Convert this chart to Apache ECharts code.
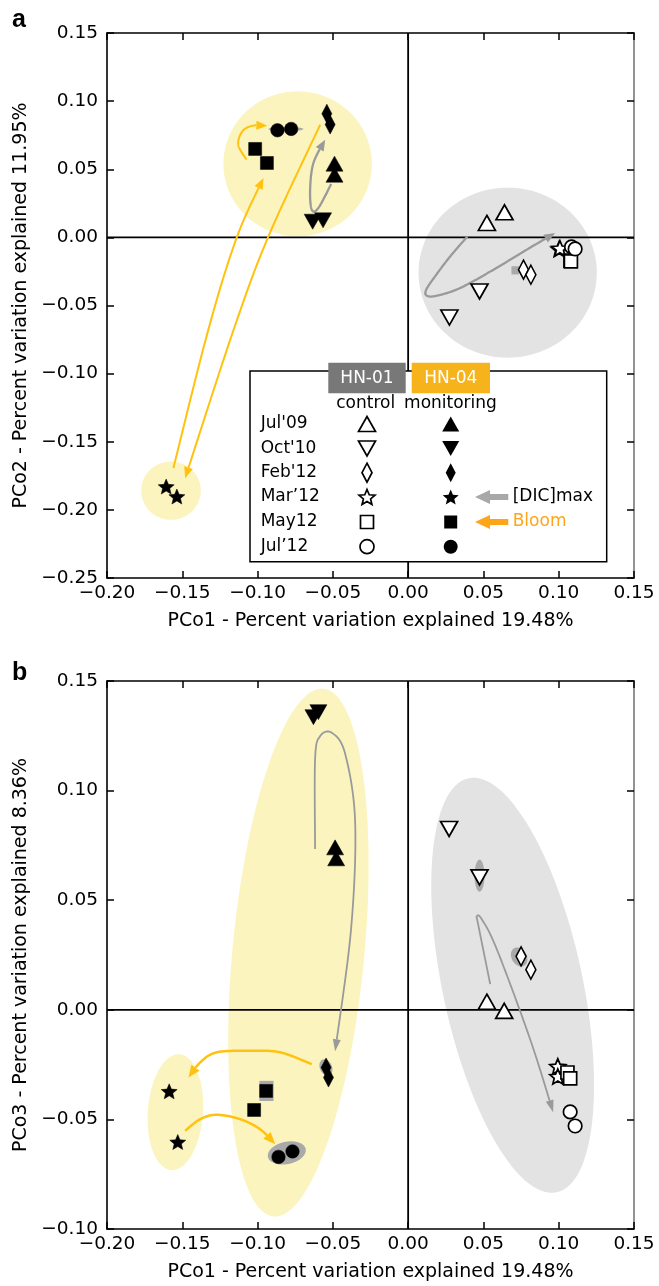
<!DOCTYPE html>
<html>
<head>
<meta charset="utf-8">
<script src="https://cdn.jsdelivr.net/npm/echarts@6/dist/echarts.min.js"></script>
<style>html,body{margin:0;padding:0;background:#fff}#c{width:659px;height:1286px}</style>
</head>
<body>
<div id="c"></div>
<script>
// ---------------- data ----------------
const monthLabels = ["Jul'09", "Oct'10", "Feb'12", "Mar\u201912", "May12", "Jul\u201912"];
const xTicks = [-0.20, -0.15, -0.10, -0.05, 0.00, 0.05, 0.10, 0.15];
const yTicksA = [-0.25, -0.20, -0.15, -0.10, -0.05, 0.00, 0.05, 0.10, 0.15];
const yTicksB = [-0.10, -0.05, 0.00, 0.05, 0.10, 0.15];
const tickStep = 0.05;

// [PCo1, PCo2, month index]
const panelA_control = [
  [0.0523, 0.0106, 0], [0.0640, 0.0184, 0],
  [0.0474, -0.0397, 1], [0.0274, -0.0588, 1],
  [0.0766, -0.0237, 2], [0.0815, -0.0274, 2],
  [0.1003, -0.0085, 3], [0.1008, -0.0080, 3],
  [0.1078, -0.0170, 4], [0.1081, -0.0176, 4],
  [0.1085, -0.0070, 5], [0.1109, -0.0085, 5]
];
const panelA_monitoring = [
  [-0.0489, 0.0541, 0], [-0.0489, 0.0460, 0],
  [-0.0634, 0.0115, 1], [-0.0565, 0.0125, 1],
  [-0.0540, 0.0908, 2], [-0.0518, 0.0828, 2],
  [-0.1607, -0.1829, 3], [-0.1536, -0.1902, 3],
  [-0.1016, 0.0649, 4], [-0.0938, 0.0546, 4],
  [-0.0868, 0.0786, 5], [-0.0777, 0.0796, 5]
];
// [PCo1, PCo3, month index]
const panelB_control = [
  [0.0523, 0.0037, 0], [0.0638, -0.0005, 0],
  [0.0272, 0.0825, 1], [0.0474, 0.0604, 1],
  [0.0750, 0.0244, 2], [0.0815, 0.0183, 2],
  [0.0994, -0.0258, 3], [0.0994, -0.0304, 3],
  [0.1058, -0.0286, 4], [0.1076, -0.0313, 4],
  [0.1076, -0.0466, 5], [0.1109, -0.0530, 5]
];
const panelB_monitoring = [
  [-0.0485, 0.0741, 0], [-0.0478, 0.0691, 0],
  [-0.0629, 0.1335, 1], [-0.0596, 0.1358, 1],
  [-0.0545, -0.0263, 2], [-0.0529, -0.0309, 2],
  [-0.1587, -0.0372, 3], [-0.1530, -0.0603, 3],
  [-0.0943, -0.0370, 4], [-0.1023, -0.0457, 4],
  [-0.0861, -0.0671, 5], [-0.0768, -0.0646, 5]
];

// group outlines [cx, cy, rx, ry, rotation deg]
const panelA_monitoringHulls = [[-0.0734, 0.0540, 0.0493, 0.0532, 0], [-0.1575, -0.1859, 0.0198, 0.0214, 0]];
const panelA_controlHulls = [[0.0661, -0.0259, 0.0592, 0.0624, 0]];
const panelB_monitoringHulls = [[-0.0729, 0.0261, 0.0438, 0.1209, -5.4], [-0.1546, -0.0467, 0.0183, 0.0265, -4]];
const panelB_controlHulls = [[0.0694, 0.0112, 0.0465, 0.0966, 12]];

// replicate spread [cx, cy, rx, ry, rotation deg]
const panelA_spread = [[-0.0812, 0.0795, 0.0116, 0.0016, 0]];
const panelA_spreadBoxes = [[0.0711, -0.0242, 0.0025, 0.0030]];
const panelB_spread = [[0.0474, 0.0612, 0.0033, 0.0073, 0], [0.0737, 0.0241, 0.0050, 0.0046, 30],
                       [-0.0546, -0.0263, 0.0040, 0.0039, 25], [-0.0806, -0.0653, 0.0128, 0.0051, 12]];
const panelB_spreadBoxes = [[-0.0941, -0.0370, 0.0047, 0.0046]];

// trajectories (points along each arrow)
const panelA_bloomArrows = [
  [[-0.1074, 0.0571], [-0.1128, 0.0680], [-0.1100, 0.0780], [-0.1030, 0.0820], [-0.0935, 0.0820]],
  [[-0.1559, -0.1693], [-0.1327, -0.0677], [-0.1138, 0.0000], [-0.0961, 0.0436]],
  [[-0.0584, 0.0827], [-0.0928, 0.0007], [-0.1160, -0.0681], [-0.1481, -0.1767]]
];
const panelA_dicArrows = [
  [[-0.0511, 0.0392], [-0.0596, 0.0216], [-0.0640, 0.0203], [-0.0651, 0.0350], [-0.0629, 0.0546], [-0.0551, 0.0717]],
  [[0.0394, 0.0007], [0.0279, -0.0140], [0.0179, -0.0286], [0.0120, -0.0384], [0.0124, -0.0428], [0.0191, -0.0428],
   [0.0345, -0.0372], [0.0567, -0.0237], [0.0788, -0.0090], [0.0976, 0.0032]]
];
const panelB_bloomArrows = [
  [[-0.0640, -0.0248], [-0.0850, -0.0194], [-0.1049, -0.0187], [-0.1271, -0.0194], [-0.1381, -0.0240], [-0.1459, -0.0309]],
  [[-0.1481, -0.0552], [-0.1381, -0.0499], [-0.1271, -0.0479], [-0.1116, -0.0499], [-0.0983, -0.0545], [-0.0883, -0.0613]]
];
const panelB_dicArrows = [
  [[-0.0618, 0.0734], [-0.0618, 0.1145], [-0.0584, 0.1249], [-0.0505, 0.1263], [-0.0418, 0.1167], [-0.0352, 0.0857],
   [-0.0379, 0.0369], [-0.0485, -0.0189]],
  [[0.0545, 0.0117], [0.0467, 0.0383], [0.0456, 0.0426], [0.0489, 0.0413], [0.0589, 0.0276], [0.0810, -0.0134], [0.0963, -0.0467]]
];

// ---------------- styling ----------------
const FONT = 'DejaVu Sans';
const YELLOW_FILL = '#FCF4BE';
const GRAY_FILL = '#E3E3E3';
const SPREAD = '#A9A9A9';
const BLOOM = '#FFC20E';
const DIC = '#9A9A9A';

// unit shapes in a 0..1 box
function starUnit() {
  const raw = [];
  for (let k = 0; k < 10; k++) {
    const a = (-90 + k * 36) * Math.PI / 180;
    const r = k % 2 ? 0.45 : 1;
    raw.push([Math.cos(a) * r, Math.sin(a) * r]);
  }
  const xs = raw.map(p => p[0]), ys = raw.map(p => p[1]);
  const x0 = Math.min(...xs), x1 = Math.max(...xs), y0 = Math.min(...ys), y1 = Math.max(...ys);
  return raw.map(p => [(p[0] - x0) / (x1 - x0), (p[1] - y0) / (y1 - y0)]);
}
const UNIT = [
  [[0, 1], [0.5, 0], [1, 1]],
  [[0, 0], [1, 0], [0.5, 1]],
  [[0.5, 0], [1, 0.5], [0.5, 1], [0, 0.5]],
  starUnit(),
  [[0, 0], [1, 0], [1, 1], [0, 1]],
  null
];
function unitPath(u) {
  return 'path://' + u.map((p, i) => (i ? 'L' : 'M') + (p[0] * 100).toFixed(2) + ',' + (p[1] * 100).toFixed(2)).join('') + 'Z';
}
const SYMBOLS = ['triangle', unitPath(UNIT[1]), 'diamond', unitPath(UNIT[3]), 'rect', 'circle'];
const SIZES = [[17, 15], [17, 15], [10, 19], [16, 15], [13, 13], [13.5, 13.5]];

function fmt(v) {
  if (Math.abs(v) < 1e-9) return '0.00';
  return (v < 0 ? '\u2212' : '') + Math.abs(v).toFixed(2);
}

function xAxisDef(grid, bottom, name) {
  return {
    type: 'value', gridIndex: grid, position: bottom ? 'bottom' : 'top',
    min: xTicks[0], max: xTicks[xTicks.length - 1], interval: tickStep,
    name: bottom ? name : '', nameLocation: 'middle', nameGap: 34,
    nameTextStyle: { fontFamily: FONT, fontSize: 19, color: '#000' },
    axisLine: { show: true, onZero: false, lineStyle: { color: '#000', width: 1.6 } },
    axisTick: { show: true, inside: true, length: 7, lineStyle: { color: '#000', width: 1.5 } },
    axisLabel: { show: bottom, formatter: fmt, fontFamily: FONT, fontSize: 18.5, color: '#000', margin: 6 },
    splitLine: { show: false }
  };
}
function yAxisDef(grid, left, ticks, name) {
  return {
    type: 'value', gridIndex: grid, position: left ? 'left' : 'right',
    min: ticks[0], max: ticks[ticks.length - 1], interval: tickStep,
    name: left ? name : '', nameLocation: 'middle', nameGap: 73,
    nameTextStyle: { fontFamily: FONT, fontSize: 19, color: '#000' },
    axisLine: { show: true, onZero: false, lineStyle: { color: left ? '#000' : '#777', width: 1.6 } },
    axisTick: { show: true, inside: true, length: 7, lineStyle: { color: '#000', width: 1.5 } },
    axisLabel: { show: left, formatter: fmt, fontFamily: FONT, fontSize: 18.5, color: '#000', margin: 9 },
    splitLine: { show: false }
  };
}

function ellipseSeries(list, fill, z, ax) {
  return {
    type: 'custom', xAxisIndex: ax, yAxisIndex: ax, z: z, silent: true, clip: false,
    data: list.map(e => e.slice()), encode: { x: 0, y: 1 },
    renderItem(params, api) {
      const c = api.coord([api.value(0), api.value(1)]);
      const s = api.size([api.value(2), api.value(3)]);
      const r = api.value(4) * Math.PI / 180;
      const pts = [];
      for (let i = 0; i < 120; i++) {
        const t = i / 120 * 2 * Math.PI;
        const px = s[0] * Math.cos(t), py = s[1] * Math.sin(t);
        pts.push([c[0] + px * Math.cos(r) + py * Math.sin(r), c[1] - px * Math.sin(r) + py * Math.cos(r)]);
      }
      return { type: 'polygon', shape: { points: pts }, style: { fill: fill } };
    }
  };
}
function boxSeries(list, fill, z, ax) {
  return {
    type: 'custom', xAxisIndex: ax, yAxisIndex: ax, z: z, silent: true, clip: false,
    data: list.map(e => e.slice()), encode: { x: 0, y: 1 },
    renderItem(params, api) {
      const c = api.coord([api.value(0), api.value(1)]);
      const s = api.size([api.value(2), api.value(3)]);
      return { type: 'rect', shape: { x: c[0] - s[0], y: c[1] - s[1], width: 2 * s[0], height: 2 * s[1] }, style: { fill: fill } };
    }
  };
}
function spline(pts, seg) {
  const out = [];
  for (let i = 0; i < pts.length - 1; i++) {
    const p0 = pts[Math.max(i - 1, 0)], p1 = pts[i], p2 = pts[i + 1], p3 = pts[Math.min(i + 2, pts.length - 1)];
    for (let k = 0; k < seg; k++) {
      const t = k / seg, t2 = t * t, t3 = t2 * t;
      const f = (a, b, c, d) => 0.5 * (2 * b + (-a + c) * t + (2 * a - 5 * b + 4 * c - d) * t2 + (-a + 3 * b - 3 * c + d) * t3);
      out.push([f(p0[0], p1[0], p2[0], p3[0]), f(p0[1], p1[1], p2[1], p3[1])]);
    }
  }
  out.push(pts[pts.length - 1]);
  return out;
}
function arrowSeries(list, color, width, headLen, headW, z, ax) {
  return {
    type: 'custom', xAxisIndex: ax, yAxisIndex: ax, z: z, silent: true, clip: false,
    data: list.map((_, i) => [i]),
    renderItem(params, api) {
      const pts = list[api.value(0)].map(p => api.coord(p));
      const dense = spline(pts, 20);
      const n = dense.length, tip = dense[n - 1];
      let back = n - 2;
      while (back > 0 && Math.hypot(dense[back][0] - tip[0], dense[back][1] - tip[1]) < headLen) back--;
      const b = dense[back];
      const L = Math.hypot(tip[0] - b[0], tip[1] - b[1]) || 1;
      const ux = (tip[0] - b[0]) / L, uy = (tip[1] - b[1]) / L;
      const bx = tip[0] - ux * headLen, by = tip[1] - uy * headLen;
      const line = dense.slice(0, back + 1).concat([[bx, by]]);
      return {
        type: 'group', children: [
          { type: 'polyline', shape: { points: line }, style: { stroke: color, lineWidth: width, fill: null } },
          { type: 'polygon', shape: { points: [tip, [bx - uy * headW / 2, by + ux * headW / 2], [bx + uy * headW / 2, by - ux * headW / 2]] }, style: { fill: color } }
        ]
      };
    }
  };
}
function zeroLineSeries(yTicks, ax) {
  const y0 = yTicks[0], y1 = yTicks[yTicks.length - 1], x0 = xTicks[0], x1 = xTicks[xTicks.length - 1];
  return {
    type: 'custom', xAxisIndex: ax, yAxisIndex: ax, z: 3, silent: true, clip: false,
    data: [[0, 0]],
    renderItem(params, api) {
      const a = api.coord([0, y0]), b = api.coord([0, y1]), c = api.coord([x0, 0]), d = api.coord([x1, 0]);
      return {
        type: 'group', children: [
          { type: 'line', shape: { x1: a[0], y1: a[1], x2: b[0], y2: b[1] }, style: { stroke: '#000', lineWidth: 1.8 } },
          { type: 'line', shape: { x1: c[0], y1: c[1], x2: d[0], y2: d[1] }, style: { stroke: '#000', lineWidth: 1.8 } }
        ]
      };
    }
  };
}
function pointSeries(data, open, ax) {
  return {
    type: 'scatter', xAxisIndex: ax, yAxisIndex: ax, z: 6, silent: true,
    data: data.map(d => d.slice()),
    symbol: v => SYMBOLS[v[2]],
    symbolSize: v => SIZES[v[2]],
    itemStyle: open ? { color: '#fff', borderColor: '#000', borderWidth: 1.7, opacity: 1 }
                    : { color: '#000', borderColor: '#000', borderWidth: 0.5, opacity: 1 }
  };
}

// ---------------- legend (panel a) ----------------
const legend = [];
const LF = '17px "DejaVu Sans"';
function txt(t, x, y, align, fill) {
  return { type: 'text', z: 102, style: { text: t, x: x, y: y, font: LF, fill: fill || '#000', align: align, verticalAlign: 'middle', textAlign: align, textVerticalAlign: 'middle' } };
}
legend.push({ type: 'rect', z: 100, shape: { x: 250, y: 371, width: 356.7, height: 190.7 }, style: { fill: '#fff', stroke: '#000', lineWidth: 1.5 } });
legend.push({ type: 'rect', z: 101, shape: { x: 328.3, y: 362.7, width: 77.4, height: 30.6 }, style: { fill: '#787878' } });
legend.push({ type: 'rect', z: 101, shape: { x: 411.7, y: 362.7, width: 78.3, height: 30.6 }, style: { fill: '#F6B31C' } });
legend.push(txt('HN-01', 367, 378.5, 'center', '#fff'));
legend.push(txt('HN-04', 450.8, 378.5, 'center', '#fff'));
legend.push(txt('control', 365.7, 403.5, 'center'));
legend.push(txt('monitoring', 450.5, 403.5, 'center'));
const rowY = [424, 448.5, 472.7, 497, 522, 546.7];
monthLabels.forEach((m, i) => {
  legend.push(txt(m, 260.7, rowY[i], 'left'));
  [[367, true], [450.7, false]].forEach(([cx, open]) => {
    const sz = SIZES[i];
    const st = open ? { fill: '#fff', stroke: '#000', lineWidth: 1.7 } : { fill: '#000' };
    if (i === 5) {
      legend.push({ type: 'circle', z: 102, shape: { cx: cx, cy: rowY[i], r: 7 }, style: st });
    } else {
      const pts = UNIT[i].map(p => [cx - sz[0] / 2 + p[0] * sz[0], rowY[i] - sz[1] / 2 + p[1] * sz[1]]);
      legend.push({ type: 'polygon', z: 102, shape: { points: pts }, style: st });
    }
  });
});
function legendArrow(y, color) {
  return { type: 'polygon', z: 102, shape: { points: [[475, y], [490, y - 7], [490, y - 3], [508.3, y - 3], [508.3, y + 3], [490, y + 3], [490, y + 7]] }, style: { fill: color } };
}
legend.push(legendArrow(rowY[3], '#A8A8A8'));
legend.push(txt('[DIC]max', 512.7, rowY[3], 'left'));
legend.push(legendArrow(rowY[4], '#FFA51A'));
legend.push(txt('Bloom', 512.7, rowY[4], 'left', '#FFA51A'));
legend.push({ type: 'text', z: 102, style: { text: 'a', x: 12, y: 20.5, font: 'bold 25px "Liberation Sans"', fill: '#000', align: 'left', verticalAlign: 'middle', textAlign: 'left', textVerticalAlign: 'middle' } });
legend.push({ type: 'text', z: 102, style: { text: 'b', x: 12, y: 673, font: 'bold 25px "Liberation Sans"', fill: '#000', align: 'left', verticalAlign: 'middle', textAlign: 'left', textVerticalAlign: 'middle' } });

// ---------------- chart ----------------
const chart = echarts.init(document.getElementById('c'), null, { renderer: 'canvas' });
const xName = 'PCo1 - Percent variation explained 19.48%';
chart.setOption({
  animation: false,
  backgroundColor: '#fff',
  grid: [
    { left: 107, width: 527, top: 33, height: 545 },
    { left: 107, width: 527, top: 681, height: 548 }
  ],
  xAxis: [xAxisDef(0, true, xName), xAxisDef(0, false, ''), xAxisDef(1, true, xName), xAxisDef(1, false, '')],
  yAxis: [yAxisDef(0, true, yTicksA, 'PCo2 - Percent variation explained 11.95%'), yAxisDef(0, false, yTicksA, ''),
          yAxisDef(1, true, yTicksB, 'PCo3 - Percent variation explained 8.36%'), yAxisDef(1, false, yTicksB, '')],
  graphic: { elements: legend },
  series: [
    ellipseSeries(panelA_monitoringHulls, YELLOW_FILL, 1, 0),
    ellipseSeries(panelA_controlHulls, GRAY_FILL, 1, 0),
    ellipseSeries(panelB_monitoringHulls, YELLOW_FILL, 1, 2),
    ellipseSeries(panelB_controlHulls, GRAY_FILL, 1, 2),
    zeroLineSeries(yTicksA, 0),
    zeroLineSeries(yTicksB, 2),
    ellipseSeries(panelA_spread, SPREAD, 4, 0),
    boxSeries(panelA_spreadBoxes, SPREAD, 4, 0),
    ellipseSeries(panelB_spread, SPREAD, 4, 2),
    boxSeries(panelB_spreadBoxes, SPREAD, 4, 2),
    arrowSeries(panelA_bloomArrows, BLOOM, 2, 11, 9, 5, 0),
    arrowSeries(panelA_dicArrows, DIC, 2.3, 11, 9, 5, 0),
    arrowSeries(panelB_bloomArrows, BLOOM, 2.5, 12, 10, 5, 2),
    arrowSeries(panelB_dicArrows, DIC, 1.8, 12, 8, 5, 2),
    pointSeries(panelA_control, true, 0),
    pointSeries(panelA_monitoring, false, 0),
    pointSeries(panelB_control, true, 2),
    pointSeries(panelB_monitoring, false, 2)
  ]
});
</script>
</body>
</html>
